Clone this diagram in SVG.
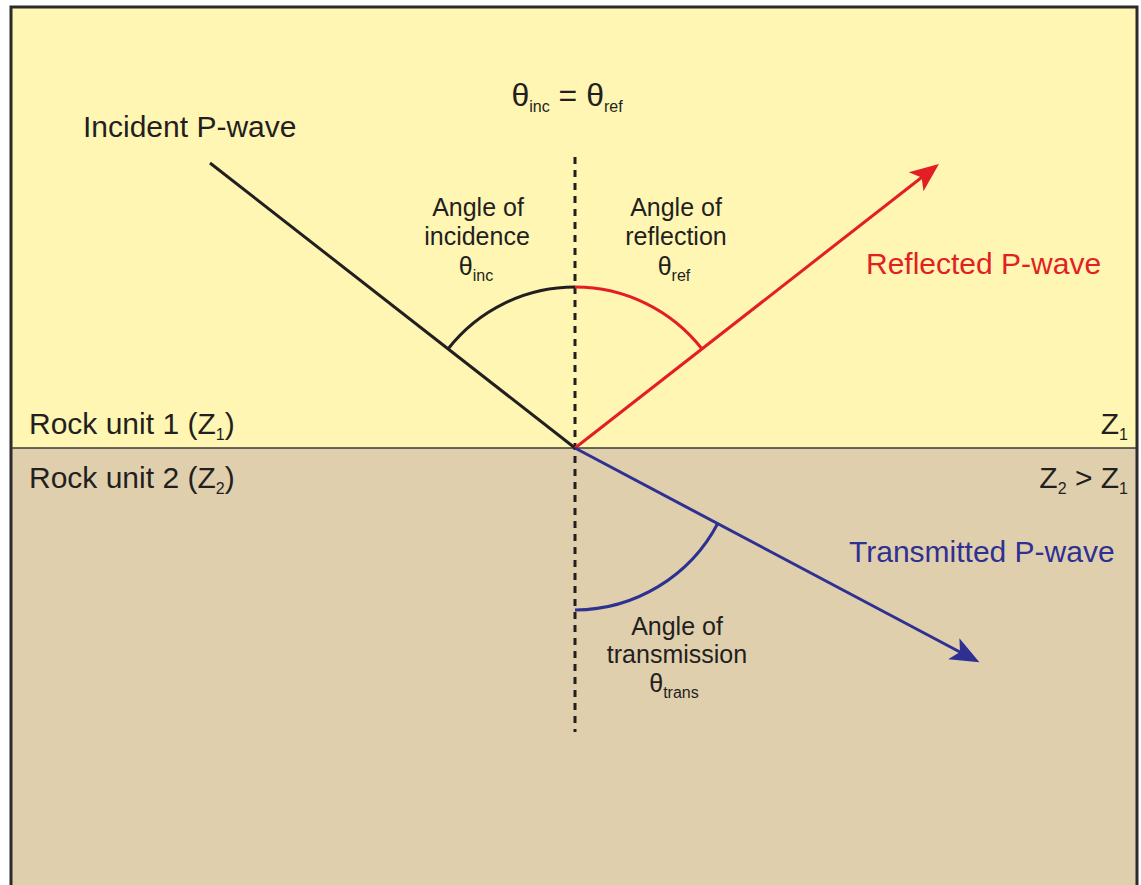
<svg xmlns="http://www.w3.org/2000/svg" width="1141" height="885" viewBox="0 0 1141 885">
<style>
text{font-family:"Liberation Sans",Arial,sans-serif;fill:#231f20}
.big{font-size:30px}
.lab{font-size:25px}
.ttl{font-size:32px}
.sub{font-size:16px}
.mid{text-anchor:middle}
.end{text-anchor:end}
</style>
<defs>
<marker id="arR" markerUnits="userSpaceOnUse" orient="auto" overflow="visible" refX="0" refY="0"><path d="M5,0 L-24,-12 L-17,0 L-24,12 Z" fill="#e31e24"/></marker>
<marker id="arB" markerUnits="userSpaceOnUse" orient="auto" overflow="visible" refX="0" refY="0"><path d="M5,0 L-24,-12 L-17,0 L-24,12 Z" fill="#2e3192"/></marker>
</defs>
<rect x="0" y="0" width="1141" height="885" fill="#ffffff"/>
<rect x="11" y="7" width="1126" height="441" fill="#fff6b3"/>
<rect x="11" y="448" width="1126" height="437" fill="#e0cfad"/>
<path d="M11,885 V7 H1137 V885" fill="none" stroke="#2b2b2b" stroke-width="3"/>
<g id="interface"><line x1="11" y1="448" x2="1137" y2="448" stroke="#3a3a3a" stroke-width="1.5"/></g>
<g id="connectors">
<line x1="575" y1="157" x2="575" y2="732" stroke="#231f20" stroke-width="3" stroke-dasharray="7,6"/>
<line id="incident" x1="210" y1="163" x2="575" y2="448" stroke="#231f20" stroke-width="3"/>
<line id="reflected" x1="575" y1="448" x2="935" y2="167" stroke="#e31e24" stroke-width="3" marker-end="url(#arR)"/>
<line id="transmitted" x1="575" y1="448" x2="975" y2="660" stroke="#2e3192" stroke-width="3" marker-end="url(#arB)"/>
<path d="M448,349 A161,161 0 0 1 575,287" fill="none" stroke="#231f20" stroke-width="3"/>
<path d="M575,287 A161,161 0 0 1 702,349" fill="none" stroke="#e31e24" stroke-width="3"/>
<path d="M718,523 A162,162 0 0 1 575,610" fill="none" stroke="#2e3192" stroke-width="3"/>
</g>
<g id="title"><text class="ttl" x="567" y="106" text-anchor="middle">θ<tspan class="sub" dy="6">inc</tspan><tspan dy="-6"> = θ</tspan><tspan class="sub" dy="6">ref</tspan></text></g>
<g id="incident-label"><text class="big" x="83" y="137">Incident P-wave</text></g>
<g id="reflected-label"><text class="big" x="866" y="274" style="fill:#e31e24">Reflected P-wave</text></g>
<g id="transmitted-label"><text class="big" x="849" y="562" style="fill:#2e3192">Transmitted P-wave</text></g>
<g id="rock1"><text class="big" x="29" y="434">Rock unit 1 (Z<tspan class="sub" dy="6">1</tspan><tspan dy="-6">)</tspan></text></g>
<g id="rock2"><text class="big" x="29" y="488">Rock unit 2 (Z<tspan class="sub" dy="6">2</tspan><tspan dy="-6">)</tspan></text></g>
<g id="z1"><text class="big end" x="1128" y="434">Z<tspan class="sub" dy="6">1</tspan></text></g>
<g id="z2"><text class="big end" x="1128" y="488">Z<tspan class="sub" dy="6">2</tspan><tspan dy="-6"> &gt; Z</tspan><tspan class="sub" dy="6">1</tspan></text></g>
<g id="incidence-label">
<text class="lab mid" x="478" y="216">Angle of</text>
<text class="lab mid" x="477" y="245">incidence</text>
<text class="lab mid" x="476" y="275">θ<tspan class="sub" dy="6">inc</tspan></text>
</g>
<g id="reflection-label">
<text class="lab mid" x="676" y="216">Angle of</text>
<text class="lab mid" x="676" y="245">reflection</text>
<text class="lab mid" x="674" y="275">θ<tspan class="sub" dy="6">ref</tspan></text>
</g>
<g id="transmission-label">
<text class="lab mid" x="677" y="635">Angle of</text>
<text class="lab mid" x="677" y="663">transmission</text>
<text class="lab mid" x="674" y="692">θ<tspan class="sub" dy="6">trans</tspan></text>
</g>
</svg>
